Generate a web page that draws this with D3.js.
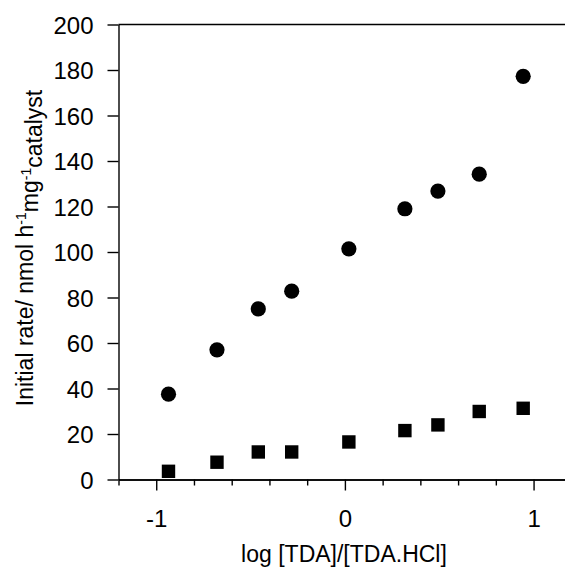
<!DOCTYPE html>
<html>
<head>
<meta charset="utf-8">
<script src="https://cdn.jsdelivr.net/npm/d3@7"></script>
<style>
  html, body { margin: 0; padding: 0; background: #fff; }
  svg text { font-family: "Liberation Sans", Arial, Helvetica, sans-serif; fill: #000; }
</style>
</head>
<body>
<svg id="chart" width="565" height="571"></svg>
<script>
// Data
const logRatio = [-0.935, -0.678, -0.459, -0.282, 0.021, 0.318, 0.493, 0.712, 0.945];
const circleRate = [37.5, 57.0, 75.0, 82.8, 101.4, 119.0, 126.8, 134.2, 177.2];
const squareRate = [3.6, 7.6, 12.1, 12.1, 16.5, 21.5, 24.0, 29.9, 31.3];
const xMajorTicks = [-1, 0, 1];
const xMinorTicks = [-1.2, -0.8, -0.6, -0.4, -0.2, 0.2, 0.4, 0.6, 0.8, 1.2];
const yTicks = [0, 20, 40, 60, 80, 100, 120, 140, 160, 180, 200];
const xTitle = "log [TDA]/[TDA.HCl]";

const svg = d3.select("#chart");
const x = d3.scaleLinear().domain([-1.2, 1.2]).range([118.5, 571.3]);
const y = d3.scaleLinear().domain([0, 200]).range([479.5, 24.5]);

const tickFont = 24;
const titleFont = 23;

// Y axis
const gy = svg.append("g").attr("transform", `translate(${x(-1.2)},0)`)
  .call(d3.axisLeft(y).tickValues(yTicks).tickSize(11).tickSizeOuter(0).tickPadding(14).tickFormat(d => String(d)));
gy.selectAll("text").style("font-size", tickFont + "px").attr("dy", "0.36em");

// X axis minor
svg.append("g").attr("transform", `translate(0,${y(0)})`)
  .call(d3.axisBottom(x).tickValues(xMinorTicks).tickSize(6).tickSizeOuter(0).tickFormat(""));
// X axis major
const gx = svg.append("g").attr("transform", `translate(0,${y(0)})`)
  .call(d3.axisBottom(x).tickValues(xMajorTicks).tickSize(11).tickSizeOuter(0).tickPadding(19).tickFormat(d => String(d)));
gx.selectAll("text").style("font-size", tickFont + "px");

svg.selectAll(".domain, .tick line").attr("stroke", "#000").attr("stroke-width", 1.4);

// Top frame line
svg.append("line").attr("x1", x(-1.2)).attr("x2", x(1.2)).attr("y1", y(200)).attr("y2", y(200))
  .attr("stroke", "#000").attr("stroke-width", 1.4);

// Markers
svg.append("g").selectAll("circle").data(logRatio).join("circle")
  .attr("cx", (d) => x(d)).attr("cy", (d, i) => y(circleRate[i])).attr("r", 7.6).attr("fill", "#000");

const sq = 13.4;
svg.append("g").selectAll("rect").data(logRatio).join("rect")
  .attr("x", d => x(d) - sq / 2).attr("y", (d, i) => y(squareRate[i]) - sq / 2)
  .attr("width", sq).attr("height", sq).attr("fill", "#000");

// X title
svg.append("text").attr("x", 344).attr("y", 562).attr("text-anchor", "middle")
  .style("font-size", titleFont + "px").text(xTitle);

// Y title with superscripts
const yt = svg.append("text").attr("transform", "translate(33,248) rotate(-90)")
  .attr("text-anchor", "middle").style("font-size", titleFont + "px");
yt.append("tspan").text("Initial rate/ nmol h");
yt.append("tspan").attr("dy", "-0.5em").style("font-size", "14px").text("-1");
yt.append("tspan").attr("dy", "0.5em").text("mg");
yt.append("tspan").attr("dy", "-0.5em").style("font-size", "14px").text("-1");
yt.append("tspan").attr("dy", "0.5em").text("catalyst");
</script>
</body>
</html>
